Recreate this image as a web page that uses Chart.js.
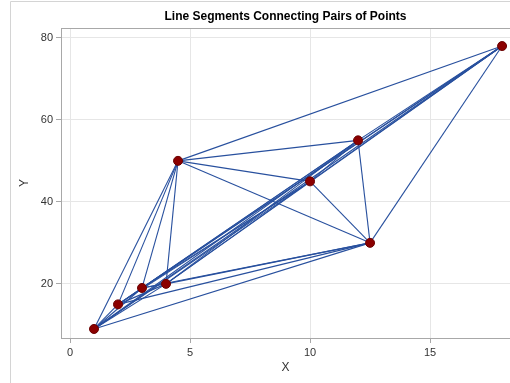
<!DOCTYPE html>
<html>
<head>
<meta charset="utf-8">
<script src="https://cdn.jsdelivr.net/npm/chart.js@4"></script>
<style>
  html, body { margin: 0; padding: 0; background: #fff; overflow: hidden; }
  #wrap { width: 510px; height: 383px; position: relative; }
</style>
</head>
<body>
<div id="wrap"><canvas id="c"></canvas></div>
<script>
// Points; every pair gets a segment.
const xs = [1, 2, 3, 4, 4.5, 10, 12, 12.5, 18];
const ys = [9, 15, 19, 20, 50, 45, 55, 30, 78];
const xTicks = [0, 5, 10, 15];
const yTicks = [20, 40, 60, 80];

const FONT = "'Liberation Sans', Arial, sans-serif";
const LINE = '#28509e', MARK = '#8b0000', GRID = '#e6e6e6', AXIS = '#a8a8a8', TXT = '#333';

const segs = [];
for (let i = 0; i < xs.length; i++) {
  for (let j = i + 1; j < xs.length; j++) {
    segs.push({
      data: [{ x: xs[i], y: ys[i] }, { x: xs[j], y: ys[j] }],
      showLine: true, borderColor: LINE, borderWidth: 1.1, pointRadius: 0, pointHoverRadius: 0,
    });
  }
}
const marks = {
  data: xs.map((x, i) => ({ x, y: ys[i] })),
  showLine: false, pointRadius: 4.5, pointBackgroundColor: MARK, pointBorderColor: '#6a0000', pointBorderWidth: 1,
};

// frame, outer border and title
const decor = {
  id: 'decor',
  afterDraw(chart) {
    const { ctx, chartArea: a } = chart;
    ctx.save();
    ctx.strokeStyle = '#d4d4d4'; ctx.lineWidth = 1;
    ctx.beginPath(); ctx.moveTo(10.5, 383); ctx.lineTo(10.5, 1.5); ctx.lineTo(510, 1.5); ctx.stroke();
    ctx.strokeStyle = AXIS;
    ctx.beginPath(); ctx.moveTo(a.left, a.top + 0.5); ctx.lineTo(a.right, a.top + 0.5); ctx.stroke();
    ctx.fillStyle = '#000'; ctx.font = `bold 12px ${FONT}`;
    ctx.textAlign = 'center'; ctx.textBaseline = 'middle';
    ctx.fillText('Line Segments Connecting Pairs of Points', (a.left + a.right) / 2, 17);
    ctx.restore();
  },
};

new Chart(document.getElementById('c'), {
  type: 'scatter',
  data: { datasets: [marks, ...segs] },
  options: {
    responsive: true, maintainAspectRatio: false, animation: false,
    layout: { autoPadding: false, padding: { top: 28, left: 0, right: 0, bottom: 0 } },
    plugins: { legend: { display: false }, tooltip: { enabled: false } },
    scales: {
      x: {
        type: 'linear', min: -0.375, max: 18.33,
        afterBuildTicks: s => { s.ticks = xTicks.map(v => ({ value: v })); },
        afterFit: s => { s.height = 45; },
        grid: { color: GRID, tickColor: AXIS, tickLength: 5 },
        border: { color: AXIS },
        ticks: { color: TXT, font: { family: FONT, size: 11 }, padding: 3, maxRotation: 0 },
        title: { display: true, text: 'X', color: TXT, font: { family: FONT, size: 12 }, padding: { top: 0, bottom: 8 } },
      },
      y: {
        type: 'linear', min: 6.8, max: 82.4,
        afterBuildTicks: s => { s.ticks = yTicks.map(v => ({ value: v })); },
        afterFit: s => { s.width = 61; },
        grid: { color: GRID, tickColor: AXIS, tickLength: 5 },
        border: { color: AXIS },
        ticks: { color: TXT, font: { family: FONT, size: 11 }, padding: 3 },
        title: { display: true, text: 'Y', color: TXT, font: { family: FONT, size: 12 }, padding: { top: 17, bottom: 0 } },
      },
    },
  },
  plugins: [decor],
});
</script>
</body>
</html>
